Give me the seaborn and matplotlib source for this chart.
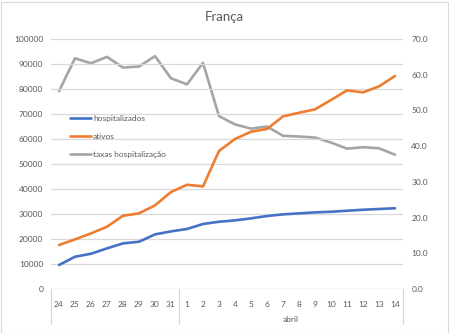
import matplotlib
matplotlib.use("Agg")
import matplotlib.pyplot as plt
import matplotlib.transforms as mtransforms
from matplotlib.patches import Rectangle
import seaborn as sns
import pandas as pd

# ---- data ----
days = ["24", "25", "26", "27", "28", "29", "30", "31",
        "1", "2", "3", "4", "5", "6", "7", "8", "9", "10", "11", "12", "13", "14"]
month_groups = ["", "abril"]
group_sizes = [8, 14]
hospitalizados = [9600, 12900, 14100, 16250, 18250, 18900, 21850, 23050,
                  24000, 26000, 26900, 27450, 28250, 29200, 29850, 30250,
                  30650, 30900, 31300, 31700, 32000, 32300]
ativos = [17600, 19850, 22250, 24900, 29300, 30250, 33450, 38800,
          41700, 41050, 55200, 60000, 62900, 64000, 69050, 70500,
          71850, 75600, 79450, 78650, 81050, 85200]
taxas = [55.4, 64.6, 63.2, 65.0, 62.0, 62.3, 65.2, 59.0,
         57.3, 63.3, 48.4, 46.1, 44.9, 45.5, 42.9, 42.7,
         42.4, 41.0, 39.3, 39.7, 39.4, 37.6]
title = "França"
labels = ["hospitalizados", "ativos", "taxas hospitalização"]

sns.set_theme(style="white")
plt.rcParams['font.family'] = ['Lato', 'DejaVu Sans']

TXT = "#595959"
GRID = "#D9D9D9"
AX = "#BFBFBF"
C_BLUE, C_ORANGE, C_GRAY = "#4472C4", "#ED7D31", "#A5A5A5"

df = pd.DataFrame({"pos": range(len(days)), "hosp": hospitalizados,
                   "ativos": ativos, "taxas": taxas})

fig = plt.figure(figsize=(4.49, 3.33), dpi=100)
ax = fig.add_axes([51 / 449, (333 - 289) / 333, 352 / 449, 250 / 333])
ax2 = ax.twinx()

lw = 1.9
sns.lineplot(data=df, x="pos", y="hosp", ax=ax, color=C_BLUE, lw=lw, label=labels[0], legend=False)
sns.lineplot(data=df, x="pos", y="ativos", ax=ax, color=C_ORANGE, lw=lw, label=labels[1], legend=False)
sns.lineplot(data=df, x="pos", y="taxas", ax=ax2, color=C_GRAY, lw=lw, label=labels[2], legend=False)
ax.set_zorder(ax2.get_zorder() + 1)
ax.patch.set_visible(False)

n = len(days)
ax.set_xlim(-0.5, n - 0.5)
ax.set_ylim(0, 100000)
ax2.set_ylim(0, 70)
ax.set_yticks(range(0, 100001, 10000))
ax.set_yticklabels([str(v) for v in range(0, 100001, 10000)])
ax2.set_yticks(range(0, 71, 10))
ax2.set_yticklabels([f"{v:.1f}" for v in range(0, 71, 10)])
ax.set_xticks(range(n))
ax.set_xticklabels(days)
ax.set_xlabel("")
ax.set_ylabel("")
ax2.set_ylabel("")

for a in (ax, ax2):
    for s in a.spines.values():
        s.set_visible(False)
    a.tick_params(length=0, labelsize=6, colors=TXT)
    a.grid(False)
ax.tick_params(axis="y", pad=5.5)
ax2.tick_params(axis="y", pad=6)
ax.tick_params(axis="x", pad=8.5)

for v in range(10000, 100001, 10000):
    ax.axhline(v, color=GRID, lw=0.9, zorder=0)
ax.axhline(0, color=AX, lw=0.9, zorder=0)

# multi-level category separators
trans = mtransforms.blended_transform_factory(ax.transData, ax.transAxes)
edges = [-0.5]
for g in group_sizes:
    edges.append(edges[-1] + g)
for e in edges:
    ax.plot([e, e], [0, -35 / 250], transform=trans, color=GRID, lw=0.9, clip_on=False)
start = -0.5
for name, g in zip(month_groups, group_sizes):
    if name:
        ax.text(start + g / 2, -30 / 250, name, transform=trans, ha="center", va="center",
                fontsize=6, color=TXT)
    start += g

fig.text(224 / 449, 1 - 17 / 333, title, ha="center", va="center", fontsize=9.5, color=TXT)

h1, l1 = ax.get_legend_handles_labels()
h2, l2 = ax2.get_legend_handles_labels()
ax.legend(h1 + h2, l1 + l2, loc="upper left", bbox_to_anchor=(66 / 449, 1 - 111 / 333),
          bbox_transform=fig.transFigure, frameon=False, fontsize=6, labelcolor=TXT,
          handlelength=2.5, handletextpad=0.25, labelspacing=1.3, borderpad=0)

fig.patches.append(Rectangle((0.5 / 449, 0.5 / 333), 1 - 2 / 449, 1 - 2 / 333,
                             transform=fig.transFigure, fill=False, edgecolor=GRID, lw=0.8))

fig.savefig("out.png", dpi=100)
